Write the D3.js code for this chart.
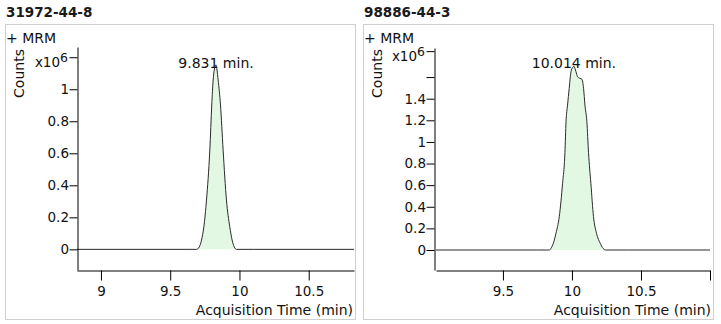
<!DOCTYPE html>
<html>
<head>
<meta charset="utf-8">
<script src="https://cdn.jsdelivr.net/npm/d3@7"></script>
<style>
  html, body { margin: 0; padding: 0; background: #fff; }
  svg { display: block; }
  text { font-family: "DejaVu Sans", Verdana, sans-serif; fill: #111; }
</style>
</head>
<body>
<svg id="chart" width="721" height="324"></svg>
<script>
// Compound names and retention times of the two MRM traces
const compoundNames = ["31972-44-8", "98886-44-3"];
const peakTimes = [9.831, 10.014];

// Trace 1: acquisition time (min) and counts (x10^6)
const timesA  = [8.827, 9.60, 9.690, 9.710, 9.726, 9.743, 9.762, 9.786, 9.800, 9.810, 9.818, 9.831,
                 9.838, 9.846, 9.863, 9.882, 9.906, 9.930, 9.947, 9.962, 9.978, 10.10, 10.827];
const countsA = [0, 0, 0, 0.015, 0.058, 0.141, 0.308, 0.620, 0.902, 1.058, 1.120, 1.152,
                 1.120, 1.058, 0.902, 0.620, 0.308, 0.141, 0.058, 0.015, 0, 0, 0];

// Trace 2: acquisition time (min) and counts (x10^6)
const timesB  = [9.015, 9.75, 9.836, 9.850, 9.865, 9.884, 9.908, 9.932, 9.949, 9.957, 9.968, 9.980,
                 9.993, 10.004, 10.014, 10.029, 10.041, 10.058, 10.072, 10.084, 10.094, 10.108,
                 10.120, 10.137, 10.156, 10.178, 10.205, 10.225, 10.246, 10.40, 11.0];
const countsB = [0, 0, 0, 0.020, 0.062, 0.154, 0.308, 0.617, 0.900, 1.187, 1.341, 1.496,
                 1.650, 1.687, 1.700, 1.650, 1.603, 1.588, 1.580, 1.496, 1.341, 1.187,
                 0.900, 0.617, 0.308, 0.154, 0.062, 0.015, 0, 0, 0];

// Axis extents and ticks
const xDomainA = [8.827, 10.827];
const xDomainB = [9.015, 11.0];
const yDomainA = [-0.129, 1.264];
const yDomainB = [-0.185, 1.869];
const xTicksA = [9, 9.5, 10, 10.5];
const xTickLabelsA = ["9", "9.5", "10", "10.5"];
const xTicksB = [9.5, 10, 10.5, 11];
const xTickLabelsB = ["9.5", "10", "10.5", ""];
const yTicksA = [0, 0.2, 0.4, 0.6, 0.8, 1, 1.2];
const yTickLabelsA = ["0", "0.2", "0.4", "0.6", "0.8", "1", ""];
const yTicksB = [0, 0.2, 0.4, 0.6, 0.8, 1, 1.2, 1.4, 1.6, 1.84];
const yTickLabelsB = ["0", "0.2", "0.4", "0.6", "0.8", "1", "1.2", "1.4", "", ""];

const panels = [
  { title: compoundNames[0], rt: peakTimes[0], t: timesA, c: countsA,
    xDomain: xDomainA, yDomain: yDomainA, xTicks: xTicksA, xLabels: xTickLabelsA,
    yTicks: yTicksA, yLabels: yTickLabelsA,
    box: { x: 5.5, y: 24.5, w: 350, h: 295 }, xRange: [77, 354], yAxisX: 77, yRange: [270, 47] },
  { title: compoundNames[1], rt: peakTimes[1], t: timesB, c: countsB,
    xDomain: xDomainB, yDomain: yDomainB, xTicks: xTicksB, xLabels: xTickLabelsB,
    yTicks: yTicksB, yLabels: yTickLabelsB,
    box: { x: 363.5, y: 24.5, w: 350, h: 295 }, xRange: [436, 710], yAxisX: 434, yRange: [270, 48] }
];

const svg = d3.select("#chart");

panels.forEach(p => {
  const g = svg.append("g");
  const x = d3.scaleLinear().domain(p.xDomain).range(p.xRange);
  const y = d3.scaleLinear().domain(p.yDomain).range(p.yRange);
  const pts = p.t.map((t, i) => ({ t, v: p.c[i] }));

  // title above the frame
  g.append("text")
    .attr("x", p.box.x + 0.5).attr("y", 17)
    .style("font-size", "13.5px").style("font-weight", "bold")
    .style("fill", "#1a1a1a")
    .text(p.title);

  // frame
  g.append("rect")
    .attr("x", p.box.x).attr("y", p.box.y)
    .attr("width", p.box.w).attr("height", p.box.h)
    .attr("fill", "none").attr("stroke", "#cfcfcf").attr("stroke-width", 1);

  g.append("text")
    .attr("x", p.box.x + 0.5).attr("y", 42.5)
    .style("font-size", "14px")
    .text("+ MRM");

  // peak fill and trace
  const area = d3.area().x(d => x(d.t)).y0(y(0)).y1(d => y(d.v)).curve(d3.curveMonotoneX);
  const line = d3.line().x(d => x(d.t)).y(d => y(d.v)).curve(d3.curveMonotoneX);
  g.append("path").datum(pts).attr("d", area).attr("fill", "#e2f8e2");
  g.append("path").datum(pts).attr("d", line)
    .attr("fill", "none").attr("stroke", "#2a2a2a").attr("stroke-width", 1);

  // x axis
  const xa = g.append("g").attr("transform", `translate(0,${p.yRange[0] + 0.5})`)
    .call(d3.axisBottom(x).tickValues(p.xTicks).tickSize(10).tickSizeOuter(0)
      .tickFormat((d, i) => p.xLabels[i]));
  xa.selectAll("text").style("font-size", "13.5px").attr("dy", "1.05em").attr("y", 11);

  // y axis
  const ya = g.append("g").attr("transform", `translate(${p.yAxisX + 0.5},0)`)
    .call(d3.axisLeft(y).tickValues(p.yTicks).tickSize(8).tickSizeOuter(0)
      .tickFormat((d, i) => p.yLabels[i]));
  ya.selectAll("text").style("font-size", "13.5px").attr("x", -8.5);

  [xa, ya].forEach(a => {
    a.select(".domain").attr("stroke", "#000");
    a.selectAll(".tick line").attr("stroke", "#000");
    a.selectAll(".tick text").style("fill", "#111").style("font-family", '"DejaVu Sans", Verdana, sans-serif');
  });

  // exponent label at the top tick
  const top = p.yTicks[p.yTicks.length - 1];
  const ex = g.append("text")
    .attr("x", p.yAxisX - 9).attr("y", y(top) + 10)
    .attr("text-anchor", "end");
  ex.append("tspan").style("font-size", "13.5px").text("x10");
  ex.append("tspan").style("font-size", "12.5px").attr("dy", "-5").text("6");

  // y axis title
  g.append("text")
    .attr("transform", `translate(${p.box.x + 18.5},73.5) rotate(-90)`)
    .attr("text-anchor", "middle")
    .style("font-size", "14px")
    .text("Counts");

  // x axis title
  g.append("text")
    .attr("x", p.box.x + p.box.w - 2.5).attr("y", 314.5)
    .attr("text-anchor", "end")
    .style("font-size", "14px")
    .text("Acquisition Time (min)");

  // retention time label at the apex
  g.append("text")
    .attr("x", x(p.rt)).attr("y", 67.5)
    .attr("text-anchor", "middle")
    .style("font-size", "14px")
    .text(`${p.rt.toFixed(3)} min.`);
});
</script>
</body>
</html>
